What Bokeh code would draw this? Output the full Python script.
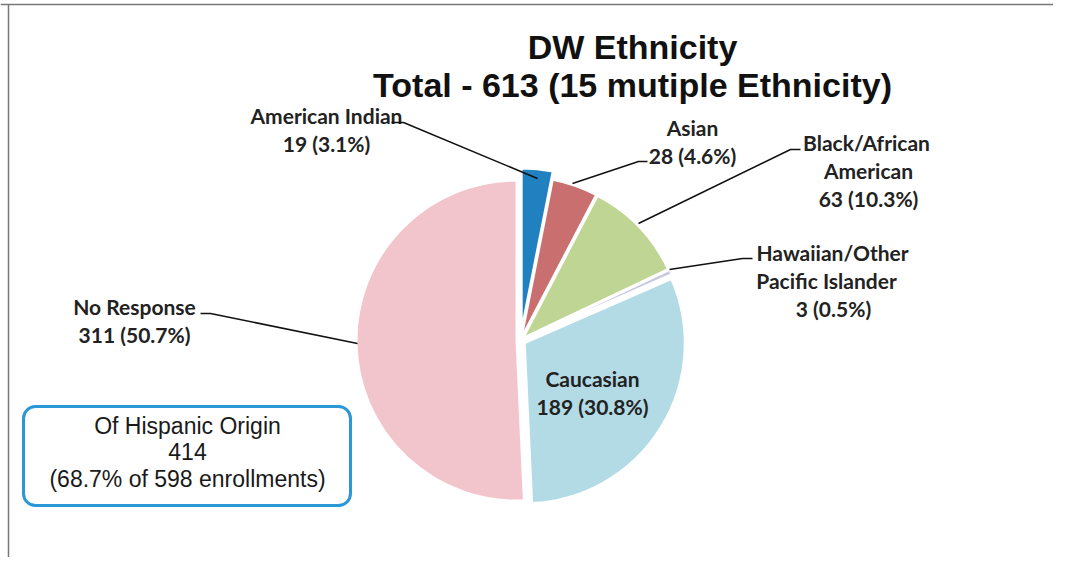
import math
from bokeh.plotting import figure
from bokeh.models import ColumnDataSource, BoxAnnotation
from bokeh.core.properties import value
from bokeh.embed import file_html
from bokeh.resources import INLINE

# ---- data ----
categories = ["American Indian", "Asian", "Black/African American",
              "Hawaiian/Other Pacific Islander", "Caucasian", "No Response"]
counts = [19, 28, 63, 3, 189, 311]
colors = ["#2180c0", "#c96f6f", "#bfd593", "#c9c9e4", "#b3dbe6", "#f2c4cb"]
title_lines = ["DW Ethnicity", "Total - 613 (15 mutiple Ethnicity)"]
hispanic_lines = ["Of Hispanic Origin", "414", "(68.7% of 598 enrollments)"]

# ---- layout ----
W, H = 1053, 557
def fx(x):  # screen pixel -> data
    return x
def fy(y):
    return H - y

explode = [12, 4, 4, 5, 5, 4]
cx, cy, R = fx(520), fy(340), 160

total = sum(counts)
starts, ends, xs, ys = [], [], [], []
cum = 0.0
for c, d in zip(counts, explode):
    a0 = cum / total * 2 * math.pi
    cum += c
    a1 = cum / total * 2 * math.pi
    mid = (a0 + a1) / 2
    # clockwise from 12 o'clock
    starts.append(math.pi / 2 - a1)
    ends.append(math.pi / 2 - a0)
    xs.append(cx + d * math.sin(mid))
    ys.append(cy + d * math.cos(mid))

src = ColumnDataSource(dict(x=xs, y=ys, s=starts, e=ends, color=colors, cat=categories))

p = figure(width=W, height=H, x_range=(0, W), y_range=(0, H),
           x_axis_location=None, y_axis_location=None,
           toolbar_location=None, output_backend="svg", min_border=0,
           outline_line_color=None, background_fill_color="white")
p.grid.visible = False

# outer frame (top, left)
p.segment(x0=[0, 8], y0=[fy(4), fy(4)], x1=[W, 8], y1=[fy(4), 0],
          line_color="#777777", line_width=1.5)

p.wedge(x="x", y="y", radius=R, start_angle="s", end_angle="e",
        fill_color="color", line_color="white", line_width=2, source=src)

def pct(c):
    return f"{c} ({c / total * 100:.1f}%)"

lab_font = value("Lato")
def txt(x, y, t, size="21px", font=lab_font, style="bold", color="#222222"):
    p.text(x=[fx(x)], y=[fy(y)], text=[t], text_font=font, text_font_size=size,
           text_font_style=style, text_align="center", text_baseline="middle",
           text_color=color)

# Hispanic box (under the text)
p.add_layout(BoxAnnotation(left=fx(23), right=fx(350), top=fy(406), bottom=fy(505),
                           fill_color="white", fill_alpha=1, line_color="#2a98d6",
                           line_alpha=1, line_width=3, border_radius=12,
                           level="underlay"))

# title
txt(632, 46, title_lines[0], size="34px", font=value("Liberation Sans"), color="#111111")
txt(632, 84, title_lines[1], size="34px", font=value("Liberation Sans"), color="#111111")

# labels
txt(326, 115, "American Indian"); txt(326, 143, pct(counts[0]))
txt(692, 127, "Asian"); txt(692, 155, pct(counts[1]))
txt(866, 142, "Black/African"); txt(868, 170, "American"); txt(868, 198, pct(counts[2]))
txt(832, 252, "Hawaiian/Other"); txt(826, 280, "Pacific Islander"); txt(833, 308, pct(counts[3]))
txt(134, 306, "No Response"); txt(134, 334, pct(counts[5]))
txt(592, 378, "Caucasian"); txt(592, 406, pct(counts[4]))

# leader lines
leaders = [
    [(391, 122), (403, 122), (537, 178)],
    [(647, 161), (638, 161), (572, 183)],
    [(800, 149), (790, 149), (638, 223)],
    [(752, 258), (742, 258), (669, 269)],
    [(200, 313), (210, 313), (357, 343)],
]
p.multi_line(xs=[[fx(a) for a, b in L] for L in leaders],
             ys=[[fy(b) for a, b in L] for L in leaders],
             line_color="#111111", line_width=1.5)

for t, y in zip(hispanic_lines, [425, 451, 478]):
    txt(187, y, t, size="23px", font=value("Liberation Sans"), style="normal", color="#1a1a1a")

open("out.html", "w").write(file_html(p, INLINE))
